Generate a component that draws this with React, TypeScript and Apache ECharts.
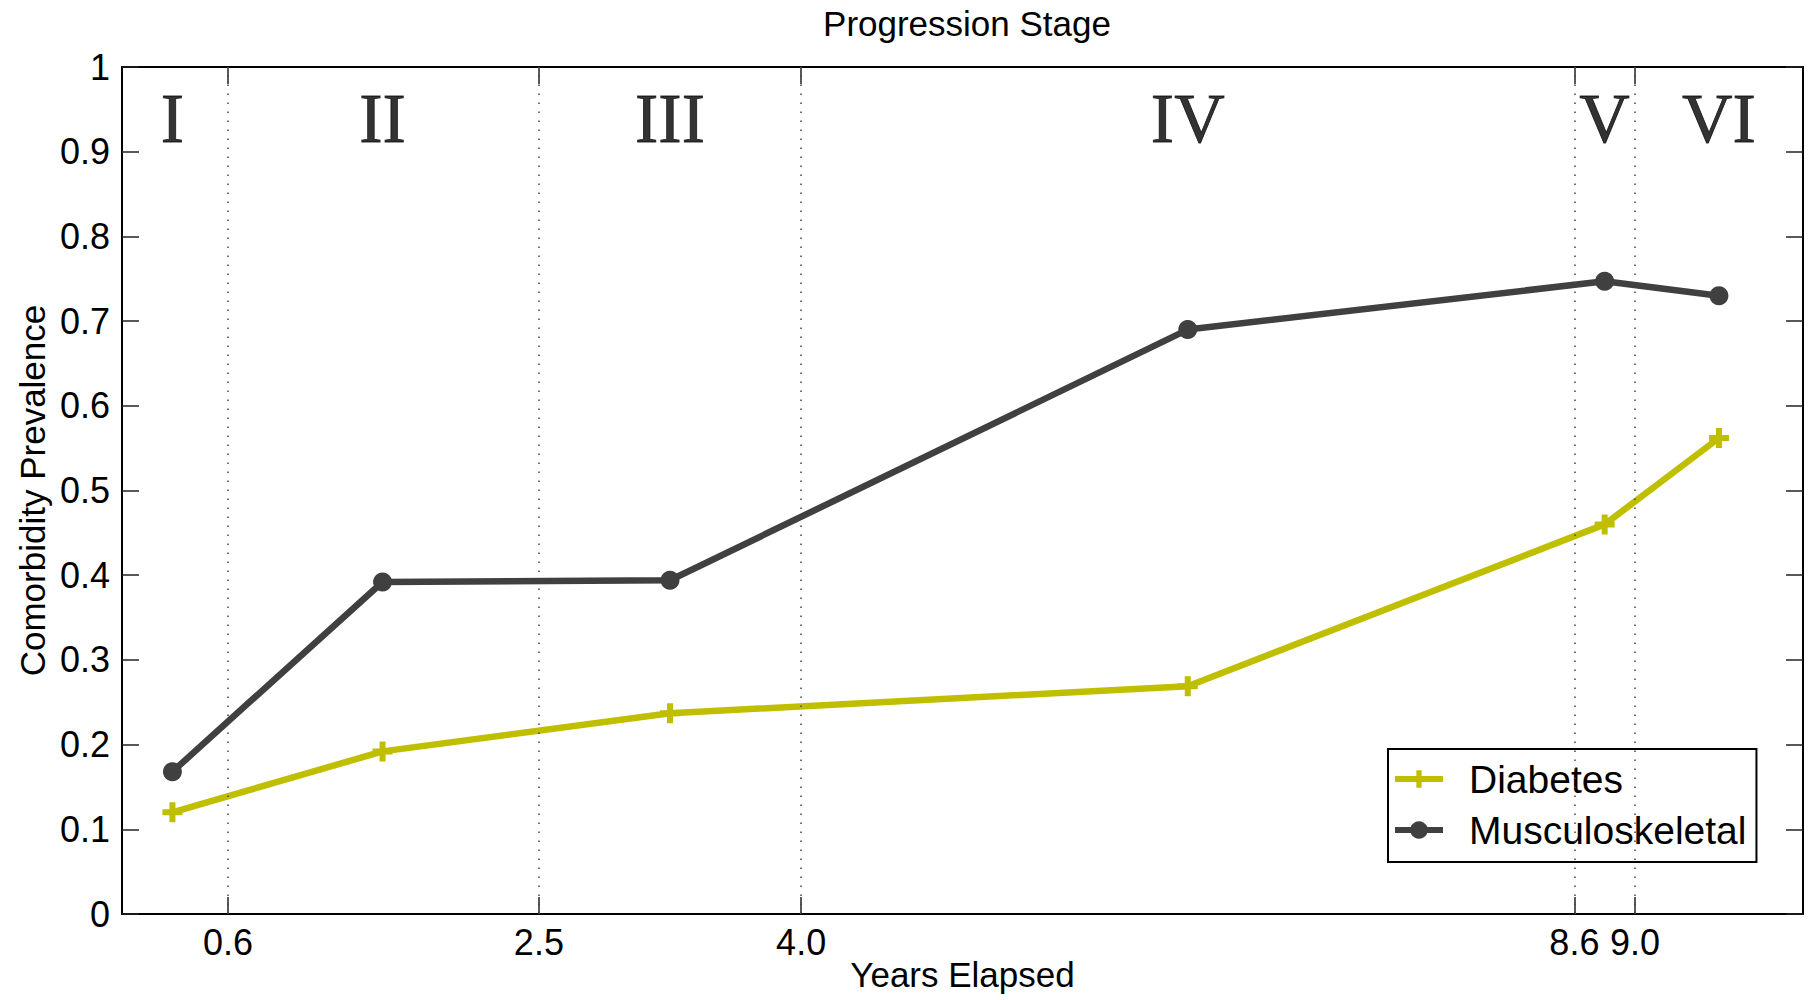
import React, { useEffect, useRef } from "react";
import * as echarts from "echarts";

// ---- data ----
const stageNames = ["I", "II", "III", "IV", "V", "VI"];
const stageYears = [0.3, 1.55, 3.26, 6.34, 8.82, 9.5];
const diabetes = [0.12, 0.192, 0.237, 0.269, 0.46, 0.562];
const musculoskeletal = [0.168, 0.392, 0.394, 0.69, 0.747, 0.73];
const stageBounds = [0.63, 2.48, 4.04, 8.64, 9.0];
const boundLabels = ["0.6", "2.5", "4.0", "8.6", "9.0"];
const xMin = 0;
const xMax = 10;
const yMin = 0;
const yMax = 1;
const yStep = 0.1;
const stageLabelLevel = 0.939;

const SANS = "Liberation Sans, Arial, Helvetica, sans-serif";
const SERIF = "Liberation Serif, Times New Roman, serif";
const YELLOW = "#BFBF00";
const GREY = "#404040";
const PLUS = "path://M7,0H13V7H20V13H13V20H7V13H0V7H7Z";

function boundLabel(v: number): string {
  let best = 0;
  for (let i = 1; i < stageBounds.length; i++) {
    if (Math.abs(stageBounds[i] - v) < Math.abs(stageBounds[best] - v)) best = i;
  }
  return boundLabels[best];
}

export default function App() {
  const ref = useRef<HTMLDivElement>(null);
  useEffect(() => {
    if (!ref.current) return;
    const chart = echarts.init(ref.current, undefined, { renderer: "svg" });
    const tickStyle = { color: "#222", width: 1.5 };
    const option: any = {
      animation: false,
      backgroundColor: "#fff",
      title: {
        text: "Progression Stage",
        left: 962,
        textAlign: "center",
        top: 1,
        textStyle: { fontFamily: SANS, fontSize: 35, fontWeight: "normal", color: "#000" },
      },
      grid: { left: 122, right: 5, top: 67, bottom: 86, containLabel: false, outerBoundsMode: "none" },
      legend: {
        data: ["Diabetes", "Musculoskeletal"],
        orient: "vertical",
        left: 1388,
        top: 749,
        padding: [10, 10, 12, 4],
        itemGap: 11,
        itemWidth: 48,
        itemHeight: 22,
        backgroundColor: "#fff",
        borderColor: "#000",
        borderWidth: 2,
        borderRadius: 0,
        lineStyle: { width: 6 },
        textStyle: {
          fontFamily: SANS,
          fontSize: 39,
          lineHeight: 40,
          color: "#000",
          padding: [0, 0, 0, 21],
        },
      },
      xAxis: [
        {
          type: "value",
          min: xMin,
          max: xMax,
          position: "bottom",
          name: "Years Elapsed",
          nameLocation: "middle",
          nameGap: 42,
          nameMoveOverlap: false,
          nameTextStyle: { fontFamily: SANS, fontSize: 35, lineHeight: 36, color: "#000" },
          axisLine: { show: true, onZero: false, lineStyle: { color: "#000", width: 2 } },
          axisTick: { show: true, inside: true, length: 17, customValues: stageBounds, lineStyle: tickStyle },
          axisLabel: {
            show: true,
            customValues: stageBounds,
            margin: 10,
            fontFamily: SANS,
            fontSize: 36,
            color: "#000",
            formatter: (v: number) => boundLabel(v),
          },
          splitLine: { show: false },
        },
        {
          type: "value",
          min: xMin,
          max: xMax,
          position: "top",
          axisLine: { show: true, onZero: false, lineStyle: { color: "#000", width: 2 } },
          axisTick: { show: true, inside: true, length: 17, customValues: stageBounds, lineStyle: tickStyle },
          axisLabel: { show: false },
          splitLine: { show: false },
        },
      ],
      yAxis: [
        {
          type: "value",
          min: yMin,
          max: yMax,
          interval: yStep,
          position: "left",
          name: "Comorbidity Prevalence",
          nameLocation: "middle",
          nameGap: 72,
          nameRotate: 90,
          nameMoveOverlap: false,
          nameTextStyle: { fontFamily: SANS, fontSize: 35, color: "#000" },
          axisLine: { show: true, onZero: false, lineStyle: { color: "#000", width: 2 } },
          axisTick: { show: true, inside: true, length: 17, lineStyle: tickStyle },
          axisLabel: {
            margin: 12,
            fontFamily: SANS,
            fontSize: 36,
            color: "#000",
            formatter: (v: number) => String(+v.toFixed(1)),
          },
          splitLine: { show: false },
        },
        {
          type: "value",
          min: yMin,
          max: yMax,
          interval: yStep,
          position: "right",
          axisLine: { show: true, onZero: false, lineStyle: { color: "#000", width: 2 } },
          axisTick: { show: true, inside: true, length: 17, lineStyle: tickStyle },
          axisLabel: { show: false },
          splitLine: { show: false },
        },
      ],
      series: [
        {
          name: "stages",
          type: "scatter",
          silent: true,
          xAxisIndex: 0,
          yAxisIndex: 0,
          symbolSize: 1,
          itemStyle: { color: "rgba(0,0,0,0)" },
          data: stageYears.map((x, i) => [x, stageLabelLevel, stageNames[i]]),
          label: {
            show: true,
            position: "inside",
            formatter: (p: any) => p.data[2],
            fontFamily: SERIF,
            fontSize: 70,
            color: "#000",
            textBorderColor: "#000",
            textBorderWidth: 0.8,
          },
          markLine: {
            silent: true,
            symbol: "none",
            label: { show: false },
            lineStyle: { type: [1.5, 7.5], color: "#444", width: 1.5 },
            data: stageBounds.map((v) => ({ xAxis: v })),
          },
          z: 1,
        },
        {
          name: "Diabetes",
          type: "line",
          xAxisIndex: 0,
          yAxisIndex: 0,
          data: stageYears.map((x, i) => [x, diabetes[i]]),
          symbol: PLUS,
          symbolSize: 20,
          lineStyle: { color: YELLOW, width: 6.5 },
          itemStyle: { color: YELLOW },
          z: 3,
        },
        {
          name: "Musculoskeletal",
          type: "line",
          xAxisIndex: 0,
          yAxisIndex: 0,
          data: stageYears.map((x, i) => [x, musculoskeletal[i]]),
          symbol: "circle",
          symbolSize: 19,
          lineStyle: { color: GREY, width: 6.5 },
          itemStyle: { color: GREY },
          z: 3,
        },
      ],
    };
    chart.setOption(option);
    return () => chart.dispose();
  }, []);
  return (
    <div
      ref={ref}
      style={{ position: "fixed", left: 0, top: 0, width: 1808, height: 1000, background: "#fff" }}
    />
  );
}
